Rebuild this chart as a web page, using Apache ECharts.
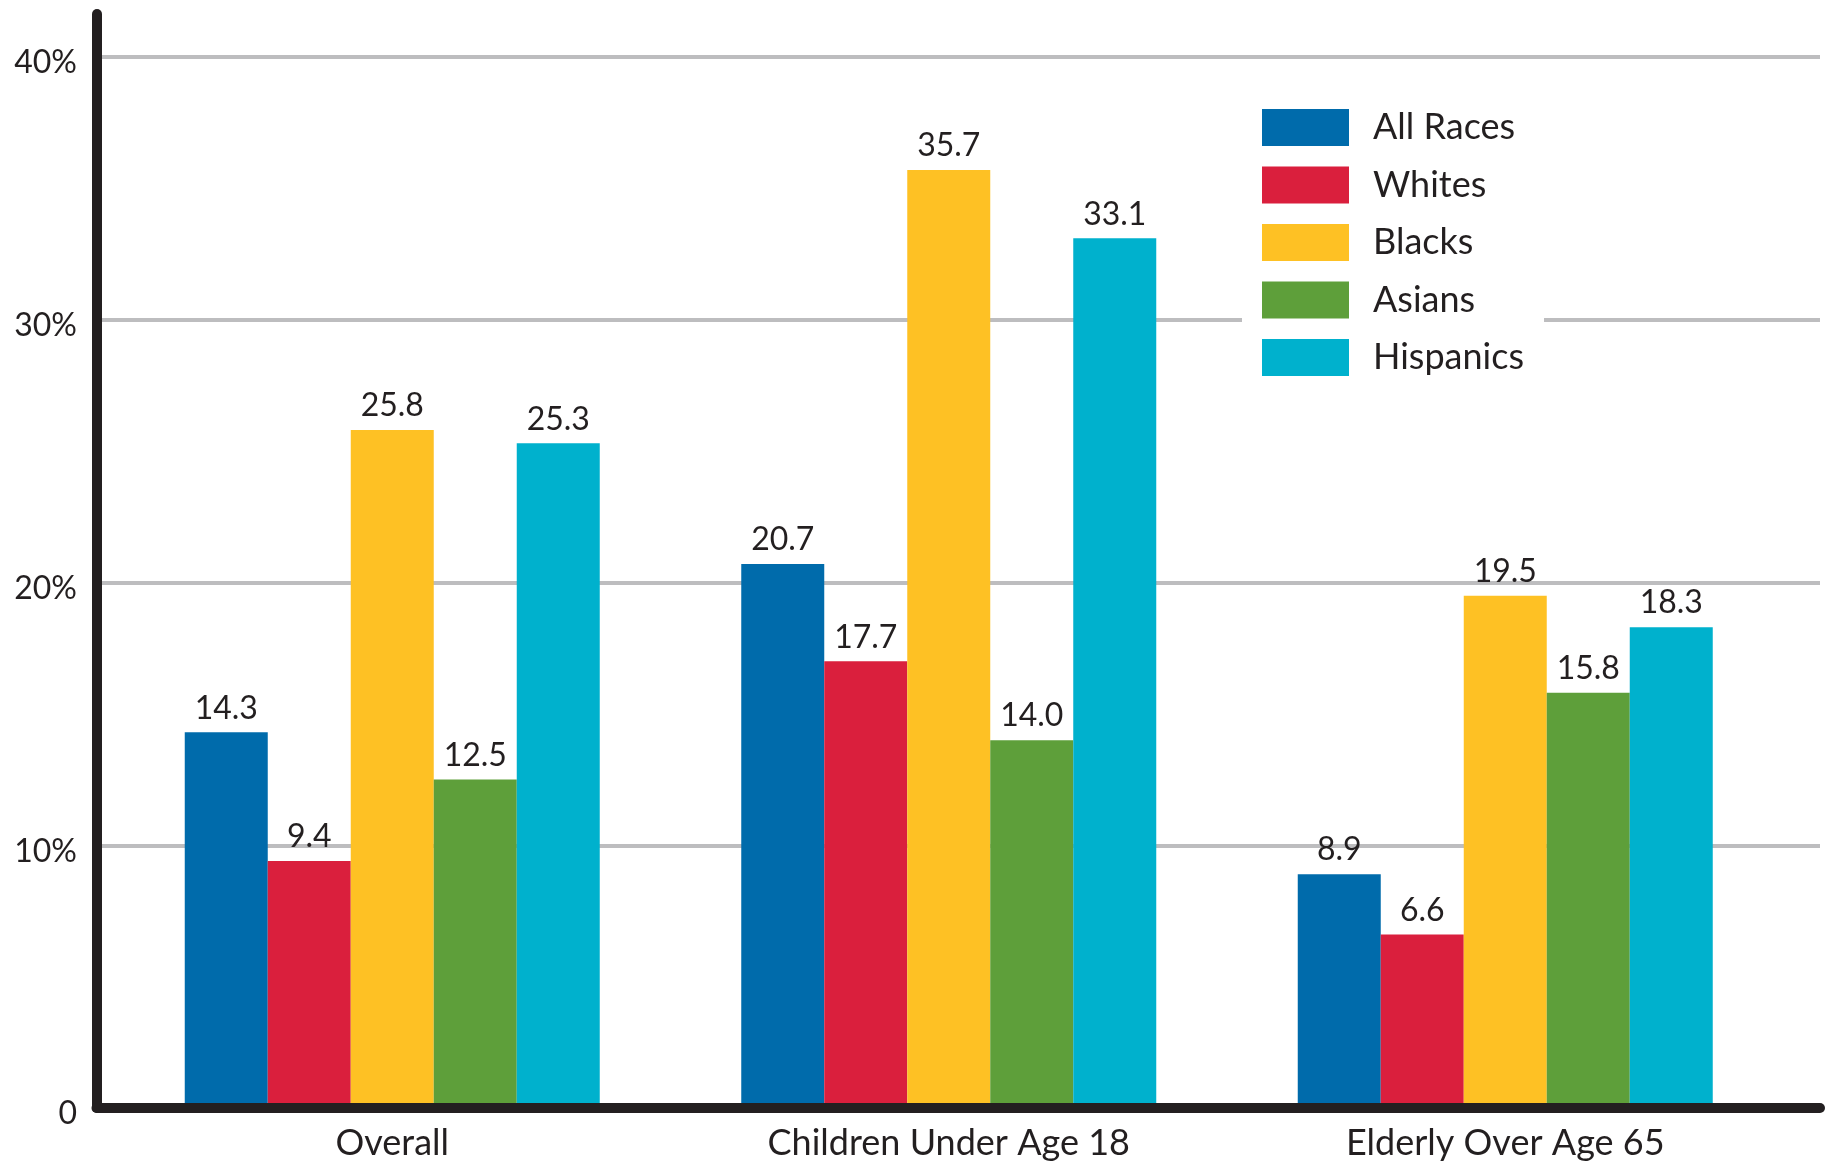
<!DOCTYPE html>
<html>
<head>
<meta charset="utf-8">
<script src="https://cdn.jsdelivr.net/npm/echarts@6/dist/echarts.min.js"></script>
<style>
  html, body { margin: 0; padding: 0; background: #ffffff; }
  #chart { width: 1829px; height: 1165px; }
</style>
</head>
<body>
<div id="chart"></div>
<script>
const categories = ['Overall', 'Children Under Age 18', 'Elderly Over Age 65'];
const seriesNames = ['All Races', 'Whites', 'Blacks', 'Asians', 'Hispanics'];
// bar heights as drawn in the picture
const allRaces = [14.3, 20.7, 8.9];
const whites = [9.4, 17.0, 6.6];
const blacks = [25.8, 35.7, 19.5];
const asians = [12.5, 14.0, 15.8];
const hispanics = [25.3, 33.1, 18.3];
// value labels as printed in the picture
const allRacesLabels = ['14.3', '20.7', '8.9'];
const whitesLabels = ['9.4', '17.7', '6.6'];
const blacksLabels = ['25.8', '35.7', '19.5'];
const asiansLabels = ['12.5', '14.0', '15.8'];
const hispanicsLabels = ['25.3', '33.1', '18.3'];
const yTicks = [0, 10, 20, 30, 40];
const yTickLabels = ['0', '10%', '20%', '30%', '40%'];

const seriesData = [allRaces, whites, blacks, asians, hispanics];
const seriesLabels = [allRacesLabels, whitesLabels, blacksLabels, asiansLabels, hispanicsLabels];
const colors = ['#006BAB', '#DA1F3D', '#FEC124', '#5E9F3A', '#00B1CD'];
const FONT = 'Lato';
const TXT = '#231F20';

const chart = echarts.init(document.getElementById('chart'), null, { renderer: 'canvas' });

const series = seriesNames.map((name, i) => ({
  name: name,
  type: 'bar',
  xAxisIndex: 0,
  yAxisIndex: 0,
  data: seriesData[i],
  barWidth: 83,
  barGap: '0%',
  itemStyle: { color: colors[i] },
  label: {
    show: true,
    position: 'top',
    distance: 8,
    color: TXT,
    fontFamily: FONT,
    fontSize: 32,
    formatter: p => seriesLabels[i][p.dataIndex]
  },
  z: 2
}));

const option = {
  backgroundColor: '#ffffff',
  animation: false,
  color: colors,
  grid: [
    { left: 114, right: 45.5, top: 57, bottom: 57 },
    { left: 97, right: 9, top: 57, bottom: 57 },
    { left: 96.5, right: 9, top: 14, bottom: 57 }
  ],
  legend: {
    orient: 'vertical',
    left: 1242,
    top: 89,
    padding: 20,
    backgroundColor: '#ffffff',
    itemWidth: 87,
    itemHeight: 37,
    itemGap: 20.5,
    icon: 'rect',
    data: seriesNames,
    textStyle: { color: TXT, fontFamily: FONT, fontSize: 36, padding: [0, 0, 0, 19] },
    z: 20
  },
  xAxis: [
    {
      gridIndex: 0,
      type: 'category',
      data: categories,
      axisLine: { show: false },
      axisTick: { show: false },
      axisLabel: { color: TXT, fontFamily: FONT, fontSize: 36, margin: 17 }
    },
    {
      gridIndex: 1,
      type: 'value',
      min: 0, max: 1,
      show: false
    },
    {
      gridIndex: 2,
      type: 'value',
      min: 0, max: 1,
      axisLine: { show: true, lineStyle: { color: '#231F20', width: 10, cap: 'round' } },
      axisTick: { show: false },
      axisLabel: { show: false },
      splitLine: { show: false },
      z: 10
    }
  ],
  yAxis: [
    {
      gridIndex: 0,
      type: 'value',
      min: yTicks[0], max: yTicks[yTicks.length - 1], interval: 10,
      show: false
    },
    {
      gridIndex: 1,
      type: 'value',
      min: yTicks[0], max: yTicks[yTicks.length - 1], interval: 10,
      axisLine: { show: false },
      axisTick: { show: false },
      axisLabel: {
        color: TXT, fontFamily: FONT, fontSize: 32, margin: 20,
        verticalAlign: 'top', lineHeight: 12,
        formatter: v => yTickLabels[yTicks.indexOf(v)]
      },
      splitLine: { show: true, lineStyle: { color: '#BDBDBF', width: 4 } }
    },
    {
      gridIndex: 2,
      type: 'value',
      min: 0, max: 1,
      axisLine: { show: true, lineStyle: { color: '#231F20', width: 10, cap: 'round' } },
      axisTick: { show: false },
      axisLabel: { show: false },
      splitLine: { show: false },
      z: 10
    }
  ],
  series: series
};

chart.setOption(option);
</script>
</body>
</html>
